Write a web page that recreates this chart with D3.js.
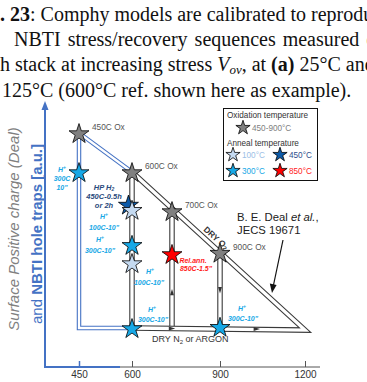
<!DOCTYPE html>
<html>
<head>
<meta charset="utf-8">
<script src="https://cdn.jsdelivr.net/npm/d3@7"></script>
<style>
body { margin: 0; background: #fff; }
svg { display: block; }
</style>
</head>
<body>
<svg width="367" height="382"></svg>
<script>
// ---- values ----
const xTicks = [450, 600, 900, 1200];
const xStops = [450, 600, 700, 900, 1200];       // axis is not linear in T

const oxTemps = [450, 600, 700, 900];
const oxLevels = [90, 75, 60, 44];
const oxNames = ["450C Ox", "600C Ox", "700C Ox", "900C Ox"];

const annealPos = [450, 590, 600, 600, 600, 700, 600, 900];
const annealLevels = [75, 62.5, 60.5, 47, 40, 43.5, 15, 15.5];
const annealTemps = [300, 450, 100, 300, 100, 850, 300, 300];

const legendTemps = [100, 450, 300, 850];
const starColor = {ox: "#808080", 100: "#c5daf1", 300: "#17a8e6", 450: "#0c5aa8", 850: "#ff0000"};
const txtColor = {100: "#9cc0e6", 300: "#17a8e6", 450: "#2f4f8c", 850: "#ff1a1a"};

// Deal's triangle (dry O2 diagonal + dry N2 bottom)
const dealTriangle = [[600, 75], [1200, 14.2], [600, 15]];
const blueL = [[450, 90], [450, 15], [600, 15]];
const blueDiag = [[450, 90], [600, 75]];

const captionRows = [
  ". 23",
  "NBTI stress/recovery sequences measured c",
  "h stack at increasing stress ",
  "125°C (600°C ref. shown here as example)."
];

// ---- scales ----
let svg = d3.select("svg");

let x = d3.scaleLinear()
  .domain(xStops)
  .range([79, 132, 172, 220, 305]);

let y = d3.scaleLinear()
  .domain([0, 100])
  .range([367, 107]);

let line = d3.line().x(d => x(d[0])).y(d => y(d[1]));

// ---- caption (Times) ----
let cap = svg.append("g")
  .style("font-family", "'Liberation Serif', 'Times New Roman', serif")
  .style("font-size", "20px")
  .attr("fill", "#111");

let r1 = cap.append("text").attr("x", 0).attr("y", 21);
r1.append("tspan").attr("font-weight", "bold").text(captionRows[0]);
r1.append("tspan").text(": Comphy models are calibrated to reproduce");

cap.append("text").attr("x", 14).attr("y", 46)
  .attr("word-spacing", "2px")
  .text(captionRows[1]);

let r3 = cap.append("text").attr("x", 0).attr("y", 71);
r3.append("tspan").text(captionRows[2]);
r3.append("tspan").attr("font-style", "italic").text("V");
r3.append("tspan").attr("font-style", "italic").attr("font-size", "13px").attr("dy", 3).text("ov");
r3.append("tspan").attr("dy", -3).text(", at ");
r3.append("tspan").attr("font-weight", "bold").text("(a)");
r3.append("tspan").text(" 25°C and");

cap.append("text").attr("x", 2).attr("y", 97).text(captionRows[3]);

// ---- double lines (dark stroke with white core) ----
function doubleLine(pts, color, outer, inner) {
  svg.append("path").attr("d", line(pts)).attr("fill", "none")
    .attr("stroke", color).attr("stroke-width", outer).attr("stroke-linejoin", "miter");
  svg.append("path").attr("d", line(pts)).attr("fill", "none")
    .attr("stroke", "#fff").attr("stroke-width", inner).attr("stroke-linejoin", "miter");
}

oxTemps.slice(1).forEach((t, i) => {
  doubleLine([[t, oxLevels[i + 1]], [t, 15]], "#3a3a3a", 5.5, 3.3);
});
doubleLine(dealTriangle, "#3a3a3a", 5.5, 3.3);
doubleLine(blueL, "#4472c4", 4.5, 2.3);
doubleLine(blueDiag, "#4472c4", 4.5, 2.3);

// little flow arrows in the scanned figure
function tri(px, py, dir) {
  let s = 3.2;
  let pts = dir === "up" ? [[px, py - s], [px - s * 0.6, py + s], [px + s * 0.6, py + s]]
          : dir === "down" ? [[px, py + s], [px - s * 0.6, py - s], [px + s * 0.6, py - s]]
          : [[px + s, py], [px - s, py - s * 0.6], [px - s, py + s * 0.6]];
  svg.append("path").attr("d", "M" + pts.join("L") + "Z").attr("fill", "#333");
}
tri(x(700), y(28.8), "up");
tri(x(900), y(29.5), "down");
tri(x(1030), y(14.6), "right");
tri(x(700), y(14.8), "right");

// ---- axes ----
const axisBlue = "#4472c4";
svg.append("line").attr("x1", 45).attr("x2", 45).attr("y1", 367).attr("y2", 108)
  .attr("stroke", axisBlue).attr("stroke-width", 2);
svg.append("path").attr("d", "M45,101L41.5,110L48.5,110Z").attr("fill", axisBlue);

svg.append("line").attr("x1", 44).attr("x2", 120).attr("y1", 367).attr("y2", 367)
  .attr("stroke", axisBlue).attr("stroke-width", 2);
svg.append("line").attr("x1", 120).attr("x2", 320).attr("y1", 367).attr("y2", 367)
  .attr("stroke", "#555").attr("stroke-width", 1);

let xAxis = svg.append("g")
  .attr("transform", "translate(0,367)")
  .call(d3.axisBottom(x).tickValues(xTicks).tickFormat(d3.format("d"))
    .tickSizeInner(-6).tickSizeOuter(0).tickPadding(4));
xAxis.select(".domain").remove();
xAxis.selectAll(".tick line").attr("stroke", d => d === 450 ? axisBlue : "#555")
  .attr("stroke-width", d => d === 450 ? 1.5 : 1);
xAxis.selectAll(".tick text")
  .style("font-family", "'Liberation Sans', Arial, sans-serif")
  .style("font-size", "10px")
  .attr("fill", "#333");

// y axis title (two lines, rotated)
svg.append("text")
  .attr("transform", "translate(13,229) rotate(-90)")
  .attr("text-anchor", "middle").attr("dominant-baseline", "central")
  .style("font-family", "'Liberation Sans', Arial, sans-serif")
  .style("font-size", "15px").style("font-style", "italic")
  .attr("fill", "#808080")
  .text("Surface Positive charge (Deal)");
let yt2 = svg.append("text")
  .attr("transform", "translate(36,234) rotate(-90)")
  .attr("text-anchor", "middle").attr("dominant-baseline", "central")
  .style("font-family", "'Liberation Sans', Arial, sans-serif")
  .style("font-size", "15px")
  .attr("fill", axisBlue);
yt2.append("tspan").text("and ");
yt2.append("tspan").attr("font-weight", "bold").text("NBTI hole traps [a.u.]");

// ---- stars ----
function star(px, py, r, fill) {
  svg.append("path")
    .attr("d", d3.symbol().type(d3.symbolStar).size(r * r / 0.8908)())
    .attr("transform", `translate(${px},${py + r * 0.1})`)
    .attr("fill", fill).attr("stroke", "#000").attr("stroke-width", 0.8);
}

oxTemps.forEach((t, i) => star(x(t), y(oxLevels[i]), 10.5, starColor.ox));
annealPos.forEach((t, i) => star(x(t), y(annealLevels[i]), 10.5, starColor[annealTemps[i]]));

// ---- labels ----
const sans = "'Liberation Sans', Arial, sans-serif";
function label(px, py, str, size, color, opts = {}) {
  let t = svg.append("text")
    .attr("x", px).attr("y", py)
    .attr("dominant-baseline", "central")
    .attr("text-anchor", opts.anchor || "start")
    .style("font-family", sans).style("font-size", size + "px")
    .attr("fill", color);
  if (opts.bi) t.style("font-weight", "bold").style("font-style", "italic");
  return t;
}
function hPlus(px, py, color) {
  let t = label(px, py, "", 7, color, {anchor: "middle", bi: true});
  t.append("tspan").text("H");
  t.append("tspan").attr("font-size", "5px").attr("dy", -2.5).text("+");
}

oxNames.forEach((n, i) => {
  label(x(oxTemps[i]) + 13, y(oxLevels[i]) - 6, "", 8.3, "#555").text(n);
});

const c300 = txtColor[300];
hPlus(62, 169, c300);
label(62, 178, "", 7, c300, {anchor: "middle", bi: true}).text("300C");
label(62, 187, "", 7, c300, {anchor: "middle", bi: true}).text("10\"");

const cHP = "#2a4a7c";
let hp = label(104, 187, "", 7.5, cHP, {anchor: "middle", bi: true});
hp.append("tspan").text("HP H");
hp.append("tspan").attr("font-size", "5px").attr("dy", 2).text("2");
label(104, 196, "", 7.5, cHP, {anchor: "middle", bi: true}).text("450C-0.5h");
label(104, 205, "", 7.5, cHP, {anchor: "middle", bi: true}).text("or 2h");
hPlus(104, 216, c300);
label(104, 227, "", 7, c300, {anchor: "middle", bi: true}).text("100C-10\"");

hPlus(100, 239, c300);
label(100, 250, "", 7, c300, {anchor: "middle", bi: true}).text("300C-10\"");

hPlus(150, 271, c300);
label(149, 282, "", 7, c300, {anchor: "middle", bi: true}).text("100C-10\"");

hPlus(152, 309, c300);
label(153, 319, "", 7, c300, {anchor: "middle", bi: true}).text("300C-10\"");

hPlus(242, 308, c300);
label(243, 318, "", 7, c300, {anchor: "middle", bi: true}).text("300C-10\"");

label(193, 260, "", 7, txtColor[850], {anchor: "middle", bi: true}).text("Rel.ann.");
label(196, 268, "", 7, txtColor[850], {anchor: "middle", bi: true}).text("850C-1.5\"");

// scanned-figure labels
let dryO = svg.append("text")
  .attr("transform", "translate(216,238) rotate(42)")
  .attr("text-anchor", "middle").attr("dominant-baseline", "central")
  .style("font-family", sans).style("font-size", "8.5px").style("font-weight", "bold")
  .attr("fill", "#333");
dryO.append("tspan").text("DRY   O");
dryO.append("tspan").attr("font-size", "6px").attr("dy", 2).text("2");

let dryN = svg.append("text").attr("x", 152).attr("y", 342)
  .style("font-family", sans).style("font-size", "9px").attr("fill", "#333");
dryN.append("tspan").text("DRY  N");
dryN.append("tspan").attr("font-size", "6px").attr("dy", 2).text("2");
dryN.append("tspan").attr("dy", -2).text(" or ARGON");

let deal = svg.append("text").attr("x", 237).attr("y", 221)
  .style("font-family", sans).style("font-size", "11.3px").attr("fill", "#222");
deal.append("tspan").text("B. E. Deal ");
deal.append("tspan").style("font-style", "italic").text("et al.");
deal.append("tspan").text(",");
svg.append("text").attr("x", 237).attr("y", 234)
  .style("font-family", sans).style("font-size", "11.3px").attr("fill", "#222")
  .text("JECS 19671");

svg.append("line").attr("x1", 283).attr("y1", 240).attr("x2", 273.5).attr("y2", 285)
  .attr("stroke", "#111").attr("stroke-width", 1.2);
svg.append("path").attr("d", "M272,293L269.8,283.6L276.6,285Z").attr("fill", "#111");

// ---- legend ----
let lg = svg.append("g");
lg.append("rect").attr("x", 223.5).attr("y", 108.5).attr("width", 94).attr("height", 72)
  .attr("fill", "#fff").attr("stroke", "#111").attr("stroke-width", 1);
label(227, 115.5, "", 8.2, "#333").text("Oxidation temperature");
star(243, 127, 7.5, starColor.ox);
label(252, 128, "", 8.2, "#808080").text("450-900°C");
label(227, 143, "", 8.2, "#333").text("Anneal temperature");
legendTemps.forEach((t, i) => {
  let lx = i % 2 === 0 ? 233 : 280;
  let ly = i < 2 ? 154 : 170;
  star(lx, ly, 7.5, starColor[t]);
  label(lx + 9, ly + 1, "", 8.2, txtColor[t]).text(t + "°C");
});
</script>
</body>
</html>
